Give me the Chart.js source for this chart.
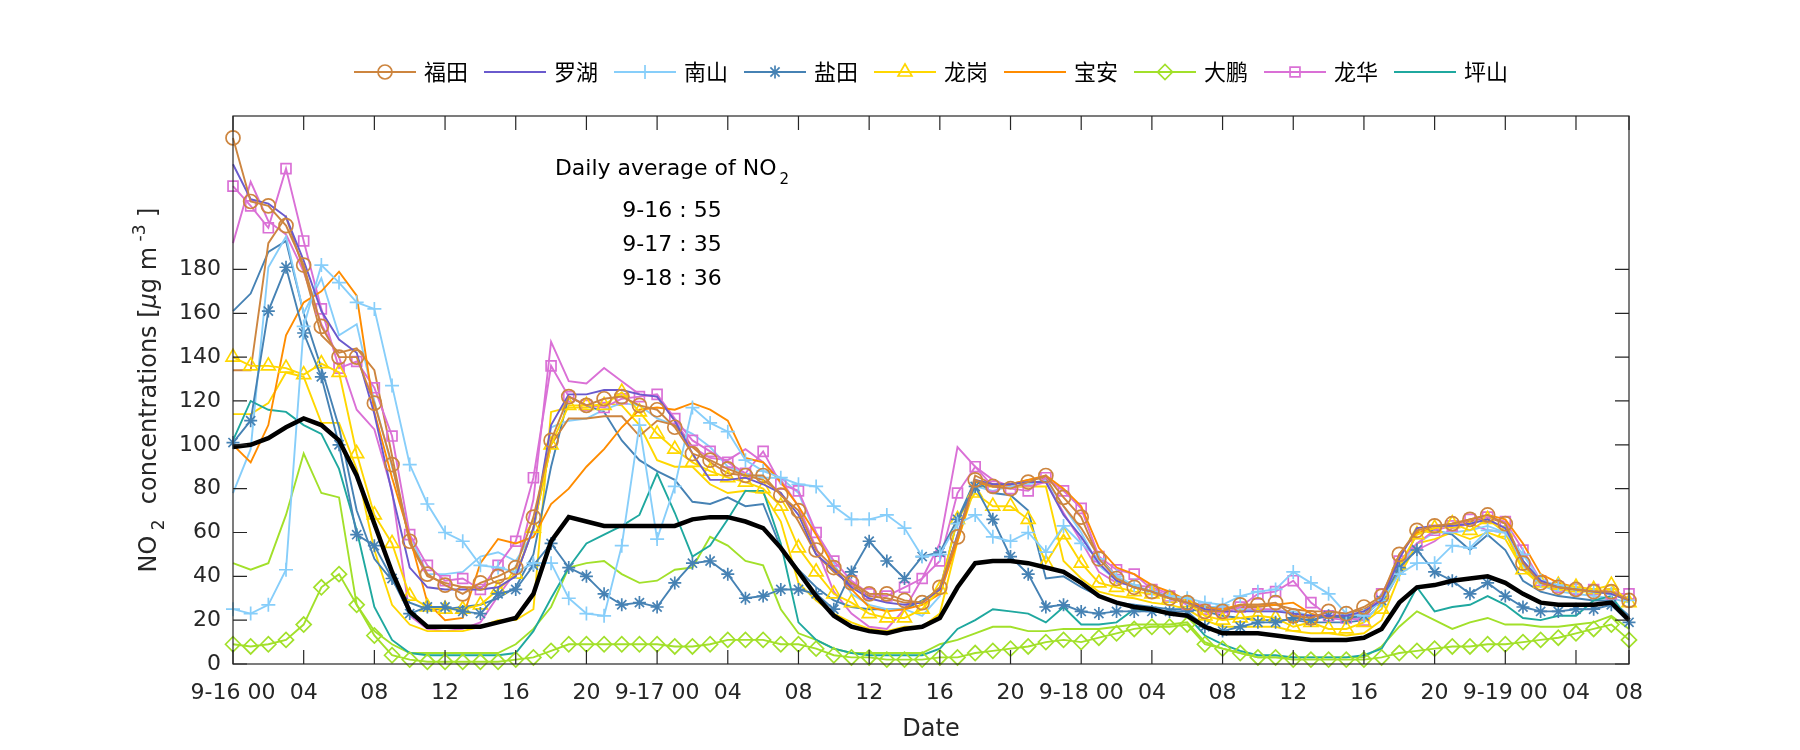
<!DOCTYPE html>
<html>
<head>
<meta charset="utf-8">
<script src="https://cdn.jsdelivr.net/npm/chart.js@4.4.1/dist/chart.umd.min.js"></script>
<style>
body { margin: 0; background: #fff; }
#wrap { width: 1800px; height: 750px; }
</style>
</head>
<body>
<div id="wrap"><canvas id="no2Chart" width="1800" height="750"></canvas></div>
<script>
// hourly index, 9-16 00:00 .. 9-19 07:00
var hours = Array.from({ length: 80 }, function (_, i) { return i; });
var tickHours = [0, 4, 8, 12, 16, 20, 24, 28, 32, 36, 40, 44, 48, 52, 56, 60, 64, 68, 72, 76, 79];
var tickLabels = ['9-16 00', '04', '08', '12', '16', '20', '9-17 00', '04', '08', '12', '16', '20',
                  '9-18 00', '04', '08', '12', '16', '20', '9-19 00', '04', '08'];
var yTicks = [0, 20, 40, 60, 80, 100, 120, 140, 160, 180];

var stationNames = ['福田', '罗湖', '南山', '盐田', '龙岗', '宝安', '大鹏', '龙华', '坪山'];
var dailyAvg = ['9-16 : 55', '9-17 : 35', '9-18 : 36'];

// legend series
var futian = [240, 211, 209, 200, 182, 154, 140, 140, 119, 91, 56, 41, 36, 32, 37, 40,
  44, 67, 102, 122, 118, 121, 122, 118, 116, 108, 96, 93, 89, 86, 86, 77,
  70, 52, 44, 37, 32, 32, 29, 28, 35, 58, 84, 81, 80, 83, 86, 76,
  67, 48, 39, 35, 33, 30, 28, 24, 24, 27, 27, 28, 22, 21, 24, 23,
  26, 31, 50, 61, 63, 64, 66, 68, 64, 46, 37, 35, 34, 33, 33, 29];
var luohu = [228, 212, 210, 204, 184, 161, 148, 142, 114, 78, 44, 35, 34, 34, 34, 35,
  40, 62, 109, 123, 123, 125, 125, 123, 122, 111, 96, 84, 84, 85, 82, 78,
  68, 50, 43, 35, 30, 28, 27, 28, 34, 59, 84, 82, 82, 83, 83, 68,
  58, 46, 38, 35, 33, 30, 28, 25, 24, 24, 24, 24, 23, 22, 22, 22,
  24, 29, 48, 62, 63, 63, 64, 66, 62, 47, 38, 35, 34, 33, 32, 29];
var nanshan = [25, 23, 27, 43, 154, 182, 174, 165, 162, 127, 91, 73, 60, 56, 45, 44,
  42, 46, 46, 30, 23, 22, 54, 109, 57, 81, 117, 110, 106, 93, 88, 85,
  82, 81, 72, 66, 66, 68, 62, 49, 50, 64, 68, 58, 56, 60, 51, 63,
  55, 48, 40, 36, 33, 31, 30, 28, 27, 31, 33, 34, 42, 37, 32, 23,
  22, 29, 41, 46, 46, 54, 53, 61, 60, 50, 38, 36, 34, 33, 32, 29];
var yantian = [101, 111, 161, 181, 151, 131, 100, 59, 54, 39, 23, 26, 26, 24, 23, 32,
  34, 45, 55, 44, 40, 32, 27, 28, 26, 37, 46, 47, 41, 30, 31, 34,
  34, 32, 25, 42, 56, 47, 39, 49, 51, 66, 81, 66, 49, 41, 26, 27,
  24, 23, 24, 24, 24, 24, 24, 17, 15, 17, 19, 19, 21, 20, 22, 21,
  22, 29, 44, 52, 42, 38, 32, 37, 31, 26, 24, 24, 25, 25, 27, 19];
var longgang = [140, 136, 136, 135, 132, 137, 133, 96, 68, 55, 31, 26, 25, 25, 27, 34,
  41, 62, 100, 118, 118, 118, 124, 115, 105, 98, 92, 88, 85, 83, 80, 72,
  53, 42, 32, 28, 23, 21, 21, 25, 34, 66, 78, 72, 72, 66, 46, 59,
  46, 37, 35, 33, 32, 30, 28, 22, 20, 21, 22, 21, 17, 19, 16, 16,
  19, 25, 45, 59, 62, 64, 61, 66, 60, 43, 37, 36, 35, 34, 36, 28];
var baoan = [100, 92, 109, 150, 165, 170, 179, 168, 115, 85, 58, 28, 20, 21, 46, 57,
  55, 58, 73, 80, 90, 98, 108, 116, 117, 116, 119, 116, 111, 94, 92, 83,
  72, 59, 44, 34, 26, 24, 25, 27, 32, 56, 83, 81, 82, 84, 86, 80,
  72, 53, 44, 41, 36, 33, 29, 25, 25, 27, 27, 27, 28, 23, 21, 22,
  23, 29, 50, 60, 62, 64, 66, 68, 66, 55, 41, 37, 35, 34, 32, 29];
var dapeng = [9, 8, 9, 11, 18, 35, 41, 27, 13, 4, 2, 1, 1, 1, 1, 1,
  2, 3, 6, 9, 9, 9, 9, 9, 9, 8, 8, 9, 11, 11, 11, 9,
  9, 7, 4, 3, 3, 2, 2, 2, 3, 3, 5, 6, 7, 8, 10, 11,
  10, 12, 14, 16, 17, 17, 18, 9, 7, 5, 3, 3, 2, 2, 2, 2,
  2, 3, 5, 6, 7, 8, 8, 9, 9, 10, 11, 12, 14, 16, 18, 11];
var longhua = [218, 209, 199, 226, 193, 162, 135, 138, 126, 104, 59, 45, 38, 39, 34, 45,
  56, 85, 136, 122, 118, 117, 121, 122, 123, 112, 102, 97, 92, 87, 97, 82,
  79, 60, 47, 38, 32, 31, 35, 39, 47, 78, 90, 81, 80, 79, 85, 79,
  71, 49, 43, 41, 34, 31, 27, 25, 23, 26, 32, 33, 38, 28, 22, 21,
  20, 32, 47, 55, 61, 63, 66, 67, 65, 52, 38, 35, 34, 34, 32, 32];
var pingshan = [102, 120, 116, 115, 109, 105, 89, 61, 26, 11, 5, 4, 4, 4, 4, 4,
  5, 15, 30, 44, 55, 59, 63, 68, 87, 69, 49, 54, 66, 79, 79, 55,
  19, 11, 7, 5, 4, 4, 4, 4, 7, 16, 20, 25, 24, 23, 19, 26,
  18, 18, 19, 25, 24, 23, 22, 13, 9, 6, 4, 4, 3, 3, 3, 3,
  4, 7, 20, 35, 24, 26, 27, 31, 27, 21, 20, 22, 22, 29, 31, 20];

// second lines of the same districts (not in legend)
var futian2 = [134, 134, 192, 204, 180, 150, 142, 144, 134, 95, 55, 40, 37, 35, 35, 38,
  40, 62, 100, 112, 112, 113, 113, 104, 111, 109, 99, 92, 87, 86, 84, 78,
  65, 50, 42, 36, 31, 30, 28, 28, 34, 57, 86, 82, 82, 84, 85, 72,
  62, 49, 40, 35, 33, 31, 29, 26, 25, 26, 26, 27, 25, 24, 24, 23,
  25, 30, 50, 60, 62, 64, 65, 67, 64, 47, 37, 35, 34, 33, 32, 30];
var nanshan2 = [78, 98, 181, 195, 160, 176, 150, 155, 120, 90, 59, 41, 41, 42, 49, 51,
  47, 60, 108, 111, 112, 116, 119, 118, 112, 109, 105, 99, 90, 87, 85, 85,
  78, 59, 46, 32, 27, 25, 25, 22, 31, 59, 81, 79, 81, 82, 84, 72,
  60, 45, 38, 35, 33, 31, 29, 26, 26, 25, 24, 24, 24, 22, 22, 22,
  20, 27, 45, 55, 60, 60, 61, 63, 60, 45, 36, 33, 32, 31, 30, 28];
var yantian2 = [161, 169, 188, 193, 160, 135, 108, 70, 48, 38, 28, 25, 25, 26, 27, 30,
  35, 50, 90, 122, 118, 115, 102, 93, 88, 84, 74, 73, 76, 72, 73, 53,
  43, 35, 29, 26, 25, 25, 25, 29, 34, 66, 84, 78, 77, 70, 39, 40,
  35, 31, 28, 27, 26, 25, 25, 24, 22, 21, 20, 20, 20, 19, 19, 19,
  20, 27, 42, 60, 61, 59, 52, 59, 52, 38, 33, 31, 30, 29, 29, 22];
var longgang2 = [114, 114, 119, 133, 131, 110, 110, 89, 52, 27, 18, 15, 15, 15, 17, 20,
  20, 25, 115, 117, 117, 119, 118, 109, 93, 90, 90, 82, 78, 79, 78, 65,
  37, 29, 23, 19, 16, 15, 17, 17, 23, 56, 81, 81, 81, 81, 81, 47,
  39, 33, 31, 30, 28, 27, 25, 20, 17, 17, 17, 17, 15, 14, 14, 13,
  14, 20, 40, 55, 57, 60, 57, 60, 57, 43, 36, 34, 33, 33, 34, 28];
var dapeng2 = [46, 43, 46, 68, 96, 78, 76, 27, 15, 9, 5, 5, 5, 5, 5, 5,
  9, 16, 26, 44, 46, 47, 41, 37, 38, 43, 44, 58, 54, 47, 45, 25,
  14, 11, 7, 5, 5, 5, 5, 5, 9, 11, 14, 17, 17, 15, 15, 16,
  16, 16, 17, 18, 18, 18, 19, 10, 7, 5, 3, 3, 3, 3, 3, 3,
  3, 8, 17, 24, 20, 16, 19, 21, 18, 18, 17, 17, 18, 19, 22, 16];
var longhua2 = [192, 220, 202, 196, 179, 155, 140, 116, 107, 79, 22, 16, 15, 16, 19, 31,
  42, 75, 147, 129, 128, 135, 129, 123, 122, 111, 99, 94, 93, 98, 92, 84,
  72, 53, 33, 23, 17, 16, 25, 39, 55, 99, 90, 84, 81, 81, 83, 69,
  56, 42, 37, 36, 35, 32, 29, 26, 26, 25, 25, 25, 23, 22, 21, 20,
  22, 30, 46, 52, 56, 62, 64, 61, 60, 45, 37, 35, 34, 33, 32, 30];

// mean of all stations (thick black)
var meanNO2 = [99, 100, 103, 108, 112, 109, 102, 86, 64, 42, 24, 17, 17, 17, 17, 19,
  21, 32, 56, 67, 65, 63, 63, 63, 63, 63, 66, 67, 67, 65, 62, 53,
  42, 31, 22, 17, 15, 14, 16, 17, 21, 35, 46, 47, 47, 46, 44, 42,
  37, 31, 28, 26, 25, 23, 22, 17, 14, 14, 14, 13, 12, 11, 11, 11,
  12, 16, 28, 35, 36, 38, 39, 40, 37, 32, 28, 27, 27, 27, 28, 20];

var colors = ['#CD853F', '#6A5ACD', '#87CEFA', '#4682B4', '#FFD700', '#FF8C00', '#A2E02A', '#DA70D6', '#1FA89F'];
var markers = ['circle', null, 'cross', 'star', 'triangle', null, 'rectRot', 'rect', null];
var markerSize = { circle: 7, cross: 7, star: 6.5, triangle: 8, rectRot: 7.5, rect: 7 };

var AXIS = '#262626';
var FONT = '"DejaVu Sans", sans-serif';
var CJK = '"Noto Sans CJK SC", sans-serif';

function series(label, data, color, style, width) {
  return {
    label: label,
    data: data,
    borderColor: color,
    borderWidth: width || 1.9,
    pointStyle: style || false,
    pointRadius: style ? markerSize[style] : 0,
    pointBorderColor: color,
    pointBackgroundColor: 'rgba(0,0,0,0)',
    pointBorderWidth: 1.7,
    tension: 0,
    fill: false,
    clip: false
  };
}

var datasets = [];
var legendSets = [futian, luohu, nanshan, yantian, longgang, baoan, dapeng, longhua, pingshan];
legendSets.forEach(function (d, i) {
  datasets.push(series(stationNames[i], d, colors[i], markers[i]));
});
// plain twins: 福田, 南山, 盐田, 龙岗, 大鹏, 龙华
[[futian2, 0], [nanshan2, 2], [yantian2, 3], [longgang2, 4], [dapeng2, 6], [longhua2, 7]].forEach(function (p) {
  var s = series(stationNames[p[1]] + '-2', p[0], colors[p[1]], null);
  s.order = 1;
  datasets.push(s);
});
var meanSet = series('mean', meanNO2, '#000000', null, 4.5);
meanSet.order = -1;
datasets.push(meanSet);

// frame, inner ticks, titles, annotation, legend
var matlabLook = {
  id: 'matlabLook',
  afterDraw: function (chart) {
    var ctx = chart.ctx, a = chart.chartArea;
    var xs = chart.scales.x, ys = chart.scales.y;
    var tl = 14;
    ctx.save();
    ctx.strokeStyle = AXIS;
    ctx.lineWidth = 1.2;
    ctx.strokeRect(a.left, a.top, a.right - a.left, a.bottom - a.top);
    ctx.beginPath();
    tickHours.forEach(function (h) {
      var x = xs.getPixelForValue(h);
      ctx.moveTo(x, a.bottom); ctx.lineTo(x, a.bottom - tl);
      ctx.moveTo(x, a.top); ctx.lineTo(x, a.top + tl);
    });
    yTicks.forEach(function (v) {
      var y = ys.getPixelForValue(v);
      ctx.moveTo(a.left, y); ctx.lineTo(a.left + tl, y);
      ctx.moveTo(a.right, y); ctx.lineTo(a.right - tl, y);
    });
    ctx.stroke();

    // x title
    ctx.fillStyle = AXIS;
    ctx.font = '24px ' + FONT;
    ctx.textAlign = 'center';
    ctx.textBaseline = 'middle';
    ctx.fillText('Date', (a.left + a.right) / 2, 730);

    // y title with sub/superscripts
    var parts = [
      { t: 'NO', f: '24px ' + FONT, dy: 0 },
      { t: ' 2', f: '17px ' + FONT, dy: 8 },
      { t: '  concentrations [', f: '24px ' + FONT, dy: 0 },
      { t: 'μ', f: 'italic 24px ' + FONT, dy: 0 },
      { t: 'g m', f: '24px ' + FONT, dy: 0 },
      { t: ' -3', f: '17px ' + FONT, dy: -11 },
      { t: ' ]', f: '24px ' + FONT, dy: 0 }
    ];
    var total = 0;
    parts.forEach(function (p) { ctx.font = p.f; p.w = ctx.measureText(p.t).width; total += p.w; });
    ctx.save();
    ctx.translate(156, (a.top + a.bottom) / 2);
    ctx.rotate(-Math.PI / 2);
    ctx.textAlign = 'left';
    ctx.textBaseline = 'alphabetic';
    var px = -total / 2;
    parts.forEach(function (p) { ctx.font = p.f; ctx.fillText(p.t, px, p.dy); px += p.w; });
    ctx.restore();

    // annotation
    ctx.fillStyle = '#000';
    ctx.textBaseline = 'middle';
    ctx.textAlign = 'left';
    var cx = 672;
    ctx.font = '22px ' + FONT;
    var head = 'Daily average of NO';
    var hw = ctx.measureText(head).width;
    ctx.font = '15px ' + FONT;
    var sw = ctx.measureText('2').width;
    var hx = cx - (hw + sw + 3) / 2;
    ctx.font = '22px ' + FONT;
    ctx.fillText(head, hx, 169);
    ctx.font = '15px ' + FONT;
    ctx.fillText('2', hx + hw + 3, 180);
    ctx.font = '22px ' + FONT;
    ctx.textAlign = 'center';
    dailyAvg.forEach(function (s, i) { ctx.fillText(s, cx, 211 + i * 34); });

    // legend (line + marker + name)
    var lineLen = 62, gap = 8, itemGap = 16, ly = 72;
    ctx.font = '22px ' + CJK;
    var widths = stationNames.map(function (n) { return lineLen + gap + ctx.measureText(n).width; });
    var tot = widths.reduce(function (s, w) { return s + w; }, 0) + itemGap * (widths.length - 1);
    var lx = (a.left + a.right) / 2 - tot / 2;
    stationNames.forEach(function (n, i) {
      ctx.strokeStyle = colors[i];
      ctx.lineWidth = 1.9;
      ctx.beginPath();
      ctx.moveTo(lx, ly); ctx.lineTo(lx + lineLen, ly);
      ctx.stroke();
      if (markers[i]) {
        ctx.save();
        ctx.strokeStyle = colors[i];
        ctx.fillStyle = 'rgba(0,0,0,0)';
        ctx.lineWidth = 1.7;
        Chart.helpers.drawPoint(ctx, { pointStyle: markers[i], radius: markerSize[markers[i]], borderWidth: 1.7, rotation: 0 }, lx + lineLen / 2, ly);
        ctx.restore();
      }
      ctx.fillStyle = '#000';
      ctx.textAlign = 'left';
      ctx.textBaseline = 'middle';
      ctx.font = '22px ' + CJK;
      ctx.fillText(n, lx + lineLen + gap, ly);
      lx += widths[i] + itemGap;
    });
    ctx.restore();
  }
};

new Chart(document.getElementById('no2Chart').getContext('2d'), {
  type: 'line',
  data: { labels: hours, datasets: datasets },
  options: {
    responsive: false,
    animation: false,
    devicePixelRatio: 1,
    events: [],
    layout: { padding: { top: 116, right: 171, left: 0, bottom: 0 } },
    plugins: { legend: { display: false }, tooltip: { enabled: false } },
    scales: {
      x: {
        type: 'linear', min: 0, max: 79,
        grid: { display: false, drawTicks: false },
        border: { display: false },
        afterBuildTicks: function (s) { s.ticks = tickHours.map(function (v) { return { value: v }; }); },
        ticks: {
          autoSkip: false, maxRotation: 0, minRotation: 0, padding: 16, color: AXIS,
          font: { family: FONT, size: 22 },
          callback: function (v) { return tickLabels[tickHours.indexOf(v)]; }
        },
        afterFit: function (s) { s.height = 86; }
      },
      y: {
        min: 0, max: 250,
        grid: { display: false, drawTicks: false },
        border: { display: false },
        afterBuildTicks: function (s) { s.ticks = yTicks.map(function (v) { return { value: v }; }); },
        ticks: { padding: 12, color: AXIS, font: { family: FONT, size: 22 } },
        afterFit: function (s) { s.width = 233; }
      }
    }
  },
  plugins: [matlabLook]
});
</script>
</body>
</html>
